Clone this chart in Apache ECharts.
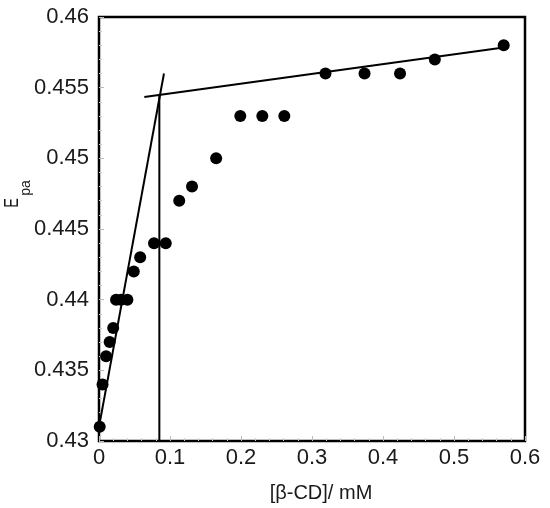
<!DOCTYPE html>
<html>
<head>
<meta charset="utf-8">
<script src="https://cdn.jsdelivr.net/npm/echarts@6/dist/echarts.min.js"></script>
<style>
html,body{margin:0;padding:0;background:#fff;}
#main{width:550px;height:508px;}
</style>
</head>
<body>
<div id="main"></div>
<script>
// measured points
var concs = [0.001, 0.005, 0.010, 0.015, 0.020, 0.024, 0.031, 0.040, 0.049, 0.058, 0.0775, 0.094, 0.113, 0.131, 0.165, 0.199, 0.230, 0.261, 0.319, 0.374, 0.424, 0.473, 0.570];
var epa = [0.431, 0.434, 0.436, 0.437, 0.438, 0.440, 0.440, 0.440, 0.442, 0.443, 0.444, 0.444, 0.447, 0.448, 0.450, 0.453, 0.453, 0.453, 0.456, 0.456, 0.456, 0.457, 0.458];
// fitted lines (end points)
var steepX = [0.0, 0.0915];
var steepY = [0.431, 0.456];
var flatX = [0.0638, 0.570];
var flatY = [0.45434, 0.45784];
var vertX = [0.085, 0.085];
var vertY = [0.43, 0.4545];
var xTicks = [0, 0.1, 0.2, 0.3, 0.4, 0.5, 0.6];
var yTicks = [0.43, 0.435, 0.44, 0.445, 0.45, 0.455, 0.46];

function pairs(xs, ys){
	var out = [];
	for(var i=0;i<xs.length;i++) out.push([xs[i], ys[i]]);
	return out;
}
function lineSeries(xs, ys){
	return {
		type:'line',
		data:pairs(xs, ys),
		symbol:'none',
		silent:true,
		lineStyle:{color:'#000',width:2},
		z:3
	};
}

var fam = 'Liberation Sans, Arial, sans-serif';
var myChart = echarts.init(document.getElementById('main'));
var labelFont = {color:'#1a1a1a',fontSize:22,fontFamily:fam};
var option = {
	animation:false,
	grid:{left:99,right:25,top:17,bottom:65,show:true,borderColor:'#000',borderWidth:2.5,backgroundColor:'transparent'},
	xAxis:{
		type:'value',min:xTicks[0],max:xTicks[xTicks.length-1],interval:0.1,
		name:'[β-CD]/ mM',nameLocation:'middle',nameGap:42,
		nameTextStyle:{color:'#1a1a1a',fontSize:20,fontFamily:fam,padding:[0,0,0,18]},
		axisLine:{show:false},
		axisTick:{inside:true,length:5,lineStyle:{color:'#bbb'}},
		minorTick:{show:true,splitNumber:5,length:3,lineStyle:{color:'#ccc'}},
		splitLine:{show:false},
		axisLabel:Object.assign({margin:6,formatter:function(v){return String(+v.toFixed(1));}},labelFont)
	},
	yAxis:{
		type:'value',min:yTicks[0],max:yTicks[yTicks.length-1],interval:0.005,
		axisLine:{show:false},
		axisTick:{inside:true,length:5,lineStyle:{color:'#bbb'}},
		minorTick:{show:true,splitNumber:5,length:3,lineStyle:{color:'#ccc'}},
		splitLine:{show:false},
		axisLabel:Object.assign({margin:10,formatter:function(v){return String(+v.toFixed(3));}},labelFont)
	},
	graphic:[{
		type:'text',
		x:12,y:203,
		rotation:Math.PI/2,
		scaleX:0.72,
		style:{text:'E',fontSize:20,fill:'#1a1a1a',fontFamily:fam,align:'center',verticalAlign:'middle'}
	},{
		type:'text',
		x:26,y:188,
		rotation:Math.PI/2,
		style:{text:'pa',fontSize:14,fill:'#1a1a1a',fontFamily:fam,align:'center',verticalAlign:'middle'}
	}],
	series:[
		{
			type:'scatter',
			data:pairs(concs, epa),
			symbol:'circle',
			symbolSize:12,
			itemStyle:{color:'#000',opacity:1},
			z:4
		},
		lineSeries(steepX, steepY),
		lineSeries(flatX, flatY),
		lineSeries(vertX, vertY)
	]
};
myChart.setOption(option);
</script>
</body>
</html>
